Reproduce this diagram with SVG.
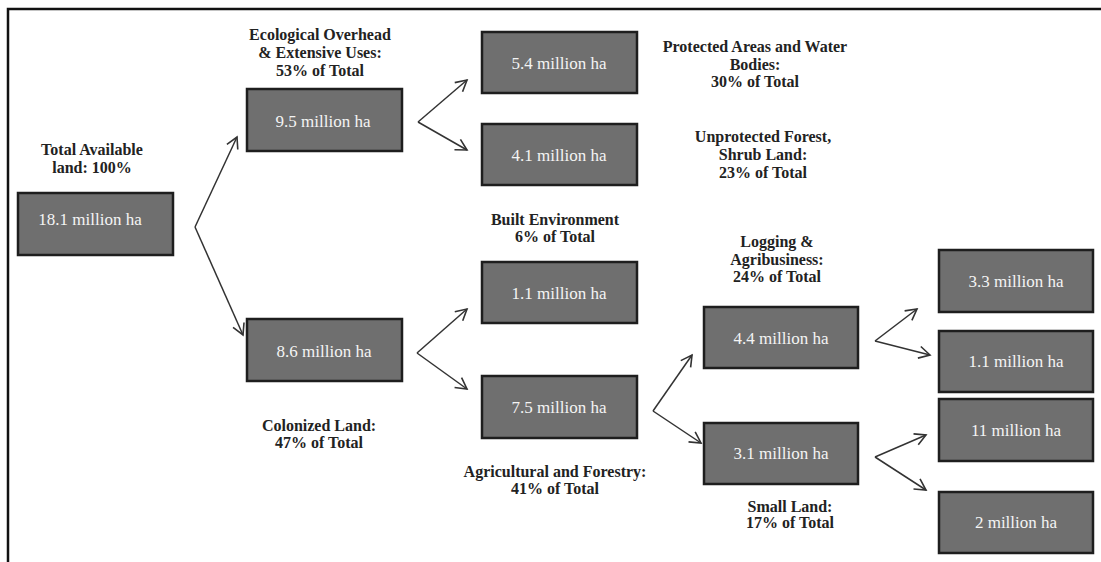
<svg xmlns="http://www.w3.org/2000/svg" width="1101" height="562" viewBox="0 0 1101 562">
<defs>
<marker id="ah" markerWidth="14" markerHeight="14" refX="12" refY="7" orient="auto" markerUnits="userSpaceOnUse">
<polyline points="1,1 12,7 1,13" fill="none" stroke="#333" stroke-width="1.6"/>
</marker>
<style>
.box{fill:#6f6f6f;stroke:#1e1e1e;stroke-width:2.5}
.bt{font-family:"Liberation Serif",serif;font-size:17px;fill:#f4f4f4;text-anchor:middle}
.lb{font-family:"Liberation Serif",serif;font-size:16px;font-weight:bold;fill:#222;text-anchor:middle}
.cn{fill:none;stroke:#333;stroke-width:1.5;marker-end:url(#ah)}
</style>
</defs>
<rect width="1101" height="562" fill="#fff"/>
<path d="M8,562 V9 H1101" fill="none" stroke="#111" stroke-width="2.5"/>

<g id="connectors">
<path class="cn" d="M195,227 L237,137"/>
<path class="cn" d="M195,227 L243,335"/>
<path class="cn" d="M418,122 L467,80"/>
<path class="cn" d="M418,122 L467,150"/>
<path class="cn" d="M417,353 L467,309"/>
<path class="cn" d="M417,353 L467,389"/>
<path class="cn" d="M653,411 L692,355"/>
<path class="cn" d="M653,411 L701,443"/>
<path class="cn" d="M875,341 L917,309"/>
<path class="cn" d="M875,341 L930,355"/>
<path class="cn" d="M875,457 L926,435"/>
<path class="cn" d="M875,457 L926,490"/>
</g>

<g id="n-total"><rect class="box" x="18" y="193" width="155" height="62"/><text class="bt" x="90" y="225">18.1 million ha</text></g>
<g id="n-eco"><rect class="box" x="247" y="89" width="155" height="62"/><text class="bt" x="323" y="127">9.5 million ha</text></g>
<g id="n-col"><rect class="box" x="247" y="319" width="155" height="62"/><text class="bt" x="324" y="357">8.6 million ha</text></g>
<g id="n-prot"><rect class="box" x="482" y="32" width="155" height="61"/><text class="bt" x="559" y="69">5.4 million ha</text></g>
<g id="n-unprot"><rect class="box" x="482" y="124" width="155" height="61"/><text class="bt" x="559" y="161">4.1 million ha</text></g>
<g id="n-built"><rect class="box" x="482" y="262" width="155" height="61"/><text class="bt" x="559" y="299">1.1 million ha</text></g>
<g id="n-agri"><rect class="box" x="482" y="376" width="155" height="62"/><text class="bt" x="559" y="413">7.5 million ha</text></g>
<g id="n-log"><rect class="box" x="704" y="307" width="154" height="61"/><text class="bt" x="781" y="344">4.4 million ha</text></g>
<g id="n-small"><rect class="box" x="704" y="423" width="154" height="61"/><text class="bt" x="781" y="459">3.1 million ha</text></g>
<g id="n-33"><rect class="box" x="939" y="250" width="154" height="62"/><text class="bt" x="1016" y="287">3.3 million ha</text></g>
<g id="n-11b"><rect class="box" x="939" y="331" width="154" height="61"/><text class="bt" x="1016" y="367">1.1 million ha</text></g>
<g id="n-11"><rect class="box" x="939" y="399" width="154" height="62"/><text class="bt" x="1016" y="436">11 million ha</text></g>
<g id="n-2"><rect class="box" x="939" y="492" width="154" height="61"/><text class="bt" x="1016" y="528">2 million ha</text></g>

<g id="labels">
<text class="lb" x="92" y="155">Total Available</text>
<text class="lb" x="92" y="173">land: 100%</text>
<text class="lb" x="320" y="40">Ecological Overhead</text>
<text class="lb" x="320" y="58">&amp; Extensive Uses:</text>
<text class="lb" x="320" y="76">53% of Total</text>
<text class="lb" x="755" y="52">Protected Areas and Water</text>
<text class="lb" x="755" y="70">Bodies:</text>
<text class="lb" x="755" y="87">30% of Total</text>
<text class="lb" x="763" y="142">Unprotected Forest,</text>
<text class="lb" x="763" y="160">Shrub Land:</text>
<text class="lb" x="763" y="178">23% of Total</text>
<text class="lb" x="555" y="225">Built Environment</text>
<text class="lb" x="555" y="242">6% of Total</text>
<text class="lb" x="777" y="247">Logging &amp;</text>
<text class="lb" x="777" y="265">Agribusiness:</text>
<text class="lb" x="777" y="282">24% of Total</text>
<text class="lb" x="319" y="431">Colonized Land:</text>
<text class="lb" x="319" y="448">47% of Total</text>
<text class="lb" x="555" y="477">Agricultural and Forestry:</text>
<text class="lb" x="555" y="494">41% of Total</text>
<text class="lb" x="790" y="512">Small Land:</text>
<text class="lb" x="790" y="528">17% of Total</text>
</g>
</svg>
